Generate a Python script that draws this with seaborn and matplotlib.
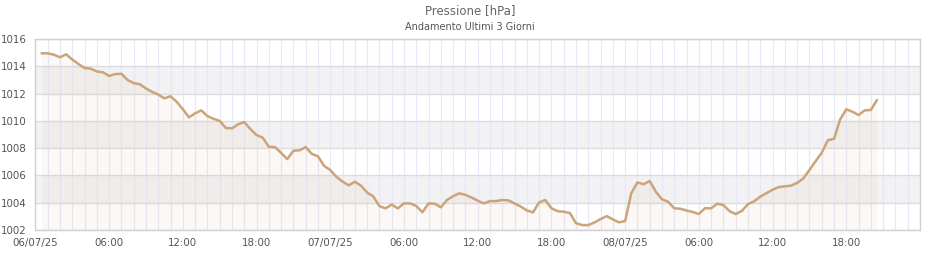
import numpy as np
import pandas as pd
import matplotlib
matplotlib.use("Agg")
import matplotlib.pyplot as plt
import matplotlib.dates as mdates
import seaborn as sns

# ---- data ----
title = "Pressione [hPa]"
subtitle = "Andamento Ultimi 3 Giorni"
start_time = "2025-07-06 00:30"
step = "30min"
pressure = [
    1014.95, 1014.95, 1014.85, 1014.66, 1014.88, 1014.50, 1014.17, 1013.87, 1013.83, 1013.62,
    1013.56, 1013.29, 1013.43, 1013.45, 1013.00, 1012.77, 1012.68, 1012.38, 1012.12, 1011.93,
    1011.65, 1011.80, 1011.40, 1010.85, 1010.26, 1010.55, 1010.77, 1010.35, 1010.15, 1010.00,
    1009.48, 1009.45, 1009.75, 1009.91, 1009.40, 1008.96, 1008.77, 1008.10, 1008.08, 1007.65,
    1007.20, 1007.81, 1007.84, 1008.08, 1007.58, 1007.40, 1006.70, 1006.40, 1005.90, 1005.55,
    1005.27, 1005.54, 1005.25, 1004.75, 1004.46, 1003.75, 1003.59, 1003.86, 1003.59, 1003.95,
    1003.95, 1003.76, 1003.30, 1003.95, 1003.93, 1003.66, 1004.20, 1004.48, 1004.69, 1004.58,
    1004.38, 1004.15, 1003.95, 1004.12, 1004.12, 1004.20, 1004.17, 1003.95, 1003.72, 1003.44,
    1003.29, 1004.03, 1004.20, 1003.59, 1003.38, 1003.34, 1003.25, 1002.50, 1002.36, 1002.36,
    1002.55, 1002.80, 1003.02, 1002.78, 1002.56, 1002.66, 1004.70, 1005.49, 1005.35, 1005.59,
    1004.81, 1004.25, 1004.07, 1003.59, 1003.56, 1003.43, 1003.32, 1003.17, 1003.60, 1003.59,
    1003.93, 1003.83, 1003.38, 1003.17, 1003.40, 1003.90, 1004.10, 1004.45, 1004.70, 1004.95,
    1005.15, 1005.20, 1005.25, 1005.45, 1005.78, 1006.40, 1007.04, 1007.66, 1008.58, 1008.68,
    1010.10, 1010.85, 1010.67, 1010.43, 1010.77, 1010.80, 1011.53,
]
y_ticks = [1002, 1004, 1006, 1008, 1010, 1012, 1014, 1016]
x_start = "2025-07-06 00:00"
x_end = "2025-07-09 00:00"

times = pd.date_range(start_time, periods=len(pressure), freq=step)
df = pd.DataFrame({"time": times, "pressure": pressure})

# ---- style ----
sns.set_style("white")
plt.rcParams["font.family"] = ["DejaVu Sans"]

line_color = "#cba47a"
band_color = "#f2f2f4"
hgrid_color = "#dddddd"
vgrid_color = "#e9e8f8"
text_color = "#555555"

fig = plt.figure(figsize=(9.4, 2.6), dpi=100)
ax = fig.add_axes([35.4 / 940, 1 - 230 / 260, (920 - 35.4) / 940, (230 - 39) / 260])

# alternating bands
for i in range(len(y_ticks) - 1):
    if i % 2 == 1:
        ax.axhspan(y_ticks[i], y_ticks[i + 1], color=band_color, zorder=0, lw=0)

# fill under line
ax.fill_between(df["time"], df["pressure"], y_ticks[0], color=line_color,
                alpha=0.075, lw=0, zorder=1)

sns.lineplot(data=df, x="time", y="pressure", ax=ax, color=line_color,
             lw=1.8, zorder=3)

ax.set_ylim(y_ticks[0], y_ticks[-1])
ax.set_xlim(pd.Timestamp(x_start), pd.Timestamp(x_end))
ax.set_yticks(y_ticks)
ax.set_yticklabels([str(v) for v in y_ticks])

ax.xaxis.set_major_locator(mdates.HourLocator(byhour=[0, 6, 12, 18]))
ax.xaxis.set_minor_locator(mdates.HourLocator())


def fmt(x, pos):
    d = mdates.num2date(x)
    if d.hour == 0:
        return d.strftime("%d/%m/%y")
    return d.strftime("%H:%M")


ax.xaxis.set_major_formatter(plt.FuncFormatter(fmt))
ticks = ax.get_xticks()
ax.set_xticks([t for t in ticks if t < mdates.date2num(pd.Timestamp(x_end))])

ax.set_xlabel("")
ax.set_ylabel("")

ax.grid(which="major", axis="y", color=hgrid_color, lw=1.0, zorder=2)
ax.grid(which="both", axis="x", color=vgrid_color, lw=0.9, zorder=2)
ax.set_axisbelow(True)

ax.tick_params(axis="both", which="both", length=0, labelsize=7.4,
               labelcolor=text_color)
ax.tick_params(axis="y", pad=6.3)
ax.tick_params(axis="x", pad=5.8)

for s in ax.spines.values():
    s.set_color("#d0d0d0")
    s.set_linewidth(1.0)

fig.text(0.5, 1 - 11 / 260, title, ha="center", va="center", fontsize=8.5,
         color="#666666")
fig.text(0.5, 1 - 27 / 260, subtitle, ha="center", va="center", fontsize=7,
         color=text_color)

fig.savefig("out.png", dpi=100)
